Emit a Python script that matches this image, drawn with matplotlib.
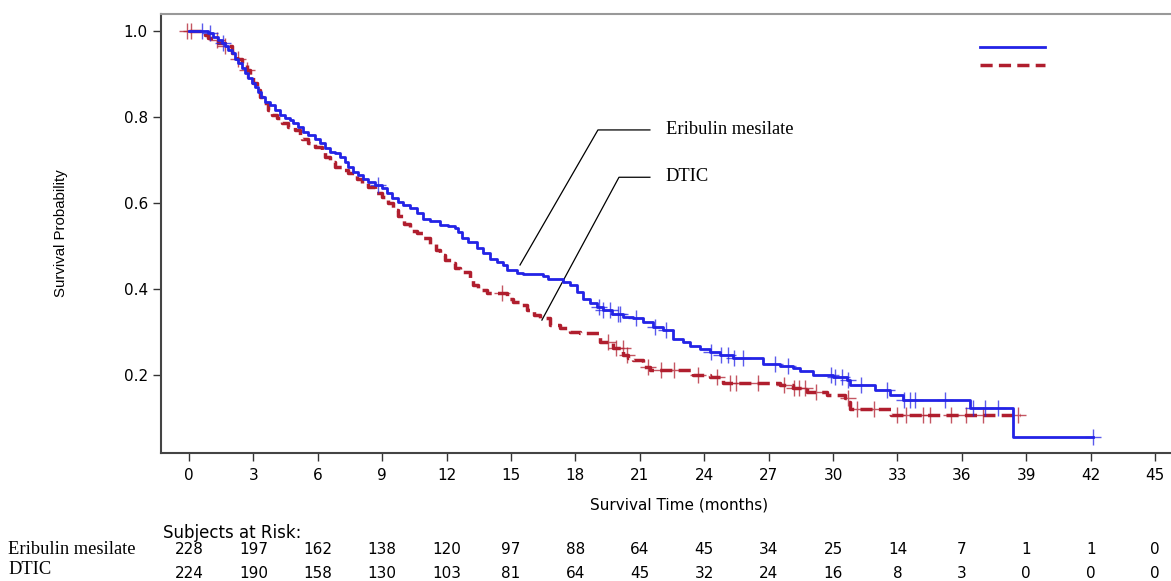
import numpy as np
import matplotlib
matplotlib.use('Agg')
import matplotlib.pyplot as plt
from matplotlib.lines import Line2D
from matplotlib.transforms import blended_transform_factory

plt.rcParams['font.family'] = ['DejaVu Sans']

# Eribulin mesilate KM steps (months, survival)
eri_t = [0, 0.59, 0.90, 1.13, 1.37, 1.52, 1.68, 1.83, 1.99, 2.14, 2.30, 2.45, 2.61, 2.76, 2.92,
         3.07, 3.23, 3.38, 3.54, 3.77, 4.01, 4.24, 4.47, 4.70, 4.86, 5.09, 5.32, 5.56, 5.87,
         6.10, 6.33, 6.57, 6.80, 7.03, 7.27, 7.42, 7.65, 7.89, 8.12, 8.35, 8.66, 8.97, 9.21,
         9.44, 9.75, 9.98, 10.29, 10.60, 10.91, 11.22, 11.69, 12.08, 12.39, 12.54, 12.70,
         13.01, 13.40, 13.71, 14.02, 14.33, 14.64, 14.80, 15.26, 15.57, 16.50, 16.74, 17.43,
         17.75, 18.06, 18.37, 18.68, 18.99, 19.30, 19.70, 20.23, 20.70, 21.16, 21.63, 22.09,
         22.56, 23.02, 23.34, 23.80, 24.27, 24.73, 25.35, 26.75, 27.53, 28.15, 28.46, 29.08,
         30.01, 30.63, 30.79, 31.95, 32.65, 33.27, 36.38, 38.39, 42.12]
eri_s = [1.0, 1.0, 0.995, 0.987, 0.979, 0.971, 0.964, 0.956, 0.948, 0.936, 0.925, 0.913,
         0.902, 0.890, 0.878, 0.870, 0.859, 0.847, 0.836, 0.828, 0.816, 0.805, 0.797, 0.793,
         0.785, 0.777, 0.766, 0.758, 0.750, 0.739, 0.727, 0.719, 0.716, 0.708, 0.696, 0.684,
         0.673, 0.665, 0.657, 0.650, 0.642, 0.634, 0.623, 0.611, 0.603, 0.595, 0.588, 0.576,
         0.564, 0.559, 0.549, 0.547, 0.543, 0.533, 0.518, 0.510, 0.495, 0.483, 0.471, 0.464,
         0.456, 0.444, 0.438, 0.435, 0.430, 0.423, 0.417, 0.409, 0.394, 0.378, 0.367, 0.359,
         0.351, 0.343, 0.336, 0.332, 0.324, 0.312, 0.305, 0.285, 0.277, 0.267, 0.260, 0.254,
         0.247, 0.241, 0.227, 0.221, 0.216, 0.210, 0.200, 0.196, 0.188, 0.177, 0.165, 0.153,
         0.142, 0.123, 0.057, 0.057]
eri_cens = [0.6, 1.0, 1.6, 8.8, 19.1, 19.3, 19.6, 20.0, 20.1, 20.8, 21.7, 22.2, 24.3, 24.8,
            25.1, 25.4, 25.8, 27.3, 27.9, 29.9, 30.1, 30.4, 30.7, 31.3, 32.5, 33.3, 33.6,
            33.8, 35.2, 36.5, 37.1, 37.7, 42.1]

# DTIC KM steps
dtic_t = [0, 0.75, 0.90, 1.21, 1.37, 1.68, 1.99, 2.22, 2.45, 2.69, 2.84, 2.99, 3.15, 3.31,
          3.46, 3.69, 3.85, 4.08, 4.32, 4.63, 4.94, 5.17, 5.25, 5.56, 5.87, 6.18, 6.33, 6.57,
          6.80, 7.11, 7.42, 7.81, 8.04, 8.35, 8.66, 8.97, 9.28, 9.52, 9.75, 10.0, 10.29,
          10.60, 10.91, 11.22, 11.53, 11.69, 11.92, 12.23, 12.39, 12.62, 13.09, 13.24, 13.47,
          13.86, 14.80, 15.11, 15.42, 15.73, 16.05, 16.36, 16.82, 17.28, 17.75, 18.21, 19.14,
          19.77, 20.23, 20.46, 20.70, 21.16, 21.47, 23.49, 24.27, 24.89, 27.53, 28.15, 28.77,
          29.70, 30.55, 30.71, 30.79, 32.72, 38.7]
dtic_s = [1.0, 0.991, 0.983, 0.979, 0.971, 0.964, 0.948, 0.936, 0.925, 0.909, 0.894, 0.878,
          0.863, 0.847, 0.832, 0.816, 0.805, 0.797, 0.785, 0.777, 0.770, 0.758, 0.750, 0.739,
          0.731, 0.719, 0.708, 0.696, 0.684, 0.677, 0.669, 0.657, 0.646, 0.638, 0.623, 0.615,
          0.599, 0.584, 0.570, 0.552, 0.535, 0.530, 0.518, 0.506, 0.491, 0.479, 0.467, 0.460,
          0.448, 0.440, 0.425, 0.409, 0.398, 0.390, 0.378, 0.370, 0.363, 0.351, 0.340, 0.332,
          0.316, 0.309, 0.301, 0.297, 0.277, 0.262, 0.247, 0.239, 0.235, 0.219, 0.213, 0.200,
          0.196, 0.181, 0.177, 0.169, 0.161, 0.153, 0.146, 0.138, 0.121, 0.107, 0.107]
dtic_cens = [-0.1, 0.1, 1.3, 1.7, 2.3, 2.7, 14.6, 19.5, 19.9, 20.2, 20.4, 21.4, 22.0, 22.6,
             23.7, 24.6, 25.2, 25.5, 26.5, 27.7, 28.2, 28.4, 28.7, 29.2, 30.7, 31.1, 31.9,
             33.0, 33.4, 34.2, 34.5, 35.5, 36.2, 37.0, 38.6]

months = list(range(0, 46, 3))
risk_eri = [228, 197, 162, 138, 120, 97, 88, 64, 45, 34, 25, 14, 7, 1, 1, 0]
risk_dtic = [224, 190, 158, 130, 103, 81, 64, 45, 32, 24, 16, 8, 3, 0, 0, 0]

blue = '#2323E6'
red = '#B01E2E'
red_dash = (0, (3.5, 1.8))

def surv_at(t, times, surv):
    idx = np.searchsorted(times, t, side='right') - 1
    return np.array(surv)[np.clip(idx, 0, len(surv) - 1)]

fig = plt.figure(figsize=(11.71, 5.81), dpi=100)
ax = fig.add_axes([0.1375, 0.2203, 0.8856, 0.7556])

ax.step(eri_t, eri_s, where='post', color=blue, lw=2.0, zorder=3)
ax.step(dtic_t, dtic_s, where='post', color=red, lw=2.5, ls=red_dash, zorder=2)
ax.plot(eri_cens, surv_at(eri_cens, eri_t, eri_s), ls='none', marker='+', ms=12, mew=1,
        color=blue, alpha=0.75, zorder=3)
ax.plot(dtic_cens, surv_at(dtic_cens, dtic_t, dtic_s), ls='none', marker='+', ms=12, mew=1,
        color=red, alpha=0.75, zorder=2)

ax.set_xlim(-1.3, 47)
ax.set_ylim(0.019, 1.0395)
ax.set_xticks(months)
ax.set_yticks([0.2, 0.4, 0.6, 0.8, 1.0])
ax.set_yticklabels(['0.2', '0.4', '0.6', '0.8', '1.0'])
ax.tick_params(direction='out', length=6, width=1, labelsize=11, colors='#333333',
               labelcolor='black')
ax.tick_params(axis='x', pad=5)
for s in ['left', 'bottom']:
    ax.spines[s].set_color('#444444')
    ax.spines[s].set_linewidth(1.5)
ax.spines['top'].set_color('#999999')
ax.spines['top'].set_linewidth(1.5)
ax.spines['right'].set_visible(False)

ax.set_xlabel('Survival Time (months)', fontsize=11, labelpad=10)
ax.set_ylabel('Survival Probability', family='Liberation Sans', fontsize=10.8)
ax.yaxis.set_label_coords(-0.090, 0.5)

# legend samples (no labels)
ax.add_line(Line2D([0.790, 0.852], [0.925, 0.925], transform=ax.transAxes, color=blue, lw=2))
ax.add_line(Line2D([0.790, 0.852], [0.884, 0.884], transform=ax.transAxes, color=red, lw=2.5,
                   ls=red_dash))

# callout lines
ax.plot([15.42, 19.05, 21.47], [0.456, 0.770, 0.770], color='black', lw=0.9)
ax.plot([16.44, 20.03, 21.47], [0.328, 0.660, 0.660], color='black', lw=0.9)
ax.text(22.2, 0.772, 'Eribulin mesilate', family='Liberation Serif', fontsize=13.3, va='center')
ax.text(22.2, 0.662, 'DTIC', family='Liberation Serif', fontsize=13.3, va='center')

# subjects at risk table
tr = blended_transform_factory(ax.transData, fig.transFigure)
fig.text(163 / 1171, 1 - 533 / 581, 'Subjects at Risk:', fontsize=12, va='center')
for m, a, b in zip(months, risk_eri, risk_dtic):
    ax.text(m, 1 - 550 / 581, str(a), transform=tr, ha='center', va='center', fontsize=11)
    ax.text(m, 1 - 573 / 581, str(b), transform=tr, ha='center', va='center', fontsize=11)
fig.text(8 / 1171, 1 - 549 / 581, 'Eribulin mesilate', family='Liberation Serif', fontsize=13.3,
         va='center')
fig.text(8 / 1171, 1 - 570 / 581, 'DTIC', family='Liberation Serif', fontsize=13.3, va='center')

fig.savefig('out.png', dpi=100)
